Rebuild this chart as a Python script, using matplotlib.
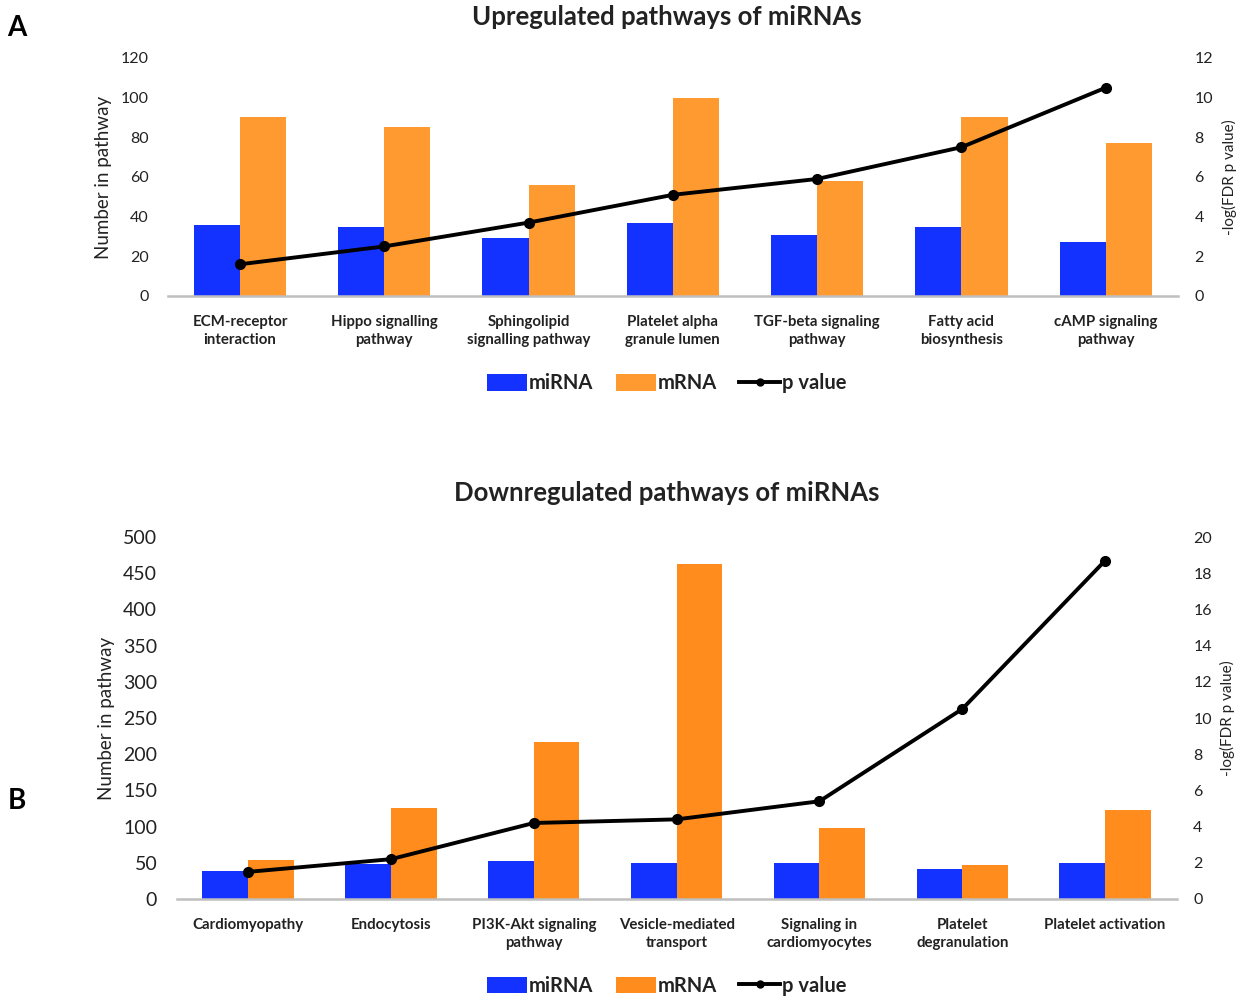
import matplotlib
matplotlib.use("Agg")
import matplotlib.pyplot as plt
import numpy as np
from matplotlib.patches import Patch
from matplotlib.lines import Line2D

plt.rcParams['font.family'] = ['Lato', 'DejaVu Sans']

# Upregulated pathways
up_categories = ["ECM-receptor\ninteraction", "Hippo signalling\npathway",
                 "Sphingolipid\nsignalling pathway", "Platelet alpha\ngranule lumen",
                 "TGF-beta signaling\npathway", "Fatty acid\nbiosynthesis",
                 "cAMP signaling\npathway"]
up_mirna = [36, 35, 29, 37, 31, 35, 27]
up_mrna = [90, 85, 56, 100, 58, 90, 77]
up_pvalue = [1.6, 2.5, 3.7, 5.1, 5.9, 7.5, 10.5]

# Downregulated pathways
down_categories = ["Cardiomyopathy", "Endocytosis", "PI3K-Akt signaling\npathway",
                   "Vesicle-mediated\ntransport", "Signaling in\ncardiomyocytes",
                   "Platelet\ndegranulation", "Platelet activation"]
down_mirna = [38, 48, 52, 50, 50, 41, 50]
down_mrna = [54, 126, 217, 463, 98, 47, 123]
down_pvalue = [1.5, 2.2, 4.2, 4.4, 5.4, 10.5, 18.7]

BLUE = "#1432FF"
ORANGE_UP = "#FF9A30"
ORANGE_DOWN = "#FF8C1C"
TXT = "#222222"

fig = plt.figure(figsize=(12.53, 10.01), dpi=100)


def draw_panel(rect, cats, mirna, mrna, pval, ymax, ystep, y2max, y2step,
               orange, ytick_fs, title, title_fs, title_y, legend_y):
    ax = fig.add_axes(rect)
    x = np.arange(len(cats))
    w = 0.32
    ax.bar(x - w / 2, mirna, w, color=BLUE, zorder=2)
    ax.bar(x + w / 2, mrna, w, color=orange, zorder=2)
    ax.set_xlim(-0.5, len(cats) - 0.5)
    ax.set_ylim(0, ymax)
    ax.set_yticks(np.arange(0, ymax + 1, ystep))
    ax.set_xticks(x)
    ax.set_xticklabels(cats, fontsize=10.8, fontweight='bold', color=TXT,
                       linespacing=1.3)
    ax.tick_params(axis='x', length=0, pad=14)
    ax.tick_params(axis='y', length=0, labelsize=ytick_fs, labelcolor=TXT, pad=14)
    for s in ['top', 'right', 'left']:
        ax.spines[s].set_visible(False)
    ax.spines['bottom'].set_color("#BFBFBF")
    ax.spines['bottom'].set_linewidth(1.8)
    ax.set_ylabel("Number in pathway", fontsize=13.5, color=TXT, labelpad=6)

    ax2 = ax.twinx()
    ax2.plot(x, pval, color='black', lw=2.8, marker='o', markersize=7, zorder=5)
    ax2.set_ylim(0, y2max)
    ax2.set_yticks(np.arange(0, y2max + 1, y2step))
    ax2.tick_params(axis='y', length=0, labelsize=11.5, labelcolor=TXT, pad=12)
    for s in ['top', 'right', 'left', 'bottom']:
        ax2.spines[s].set_visible(False)
    ax2.set_ylabel("-log(FDR p value)", fontsize=11, color=TXT, labelpad=6)

    fig.text(0.532, title_y, title, ha='center', va='center', fontsize=title_fs,
             fontweight='bold', color=TXT)

    handles = [Patch(facecolor=BLUE, label="miRNA"),
               Patch(facecolor=orange, label="mRNA"),
               Line2D([0], [0], color='black', lw=2.8, marker='o', markersize=5,
                      label="p value")]
    fig.legend(handles=handles, loc='center', bbox_to_anchor=(0.532, legend_y),
               ncol=3, frameon=False, handlelength=2.0, handleheight=0.9,
               handletextpad=0.1, columnspacing=1.1,
               prop={'size': 14.5, 'weight': 'bold'}, labelcolor=TXT)
    return ax


draw_panel([0.134, 0.7043, 0.806, 0.2378], up_categories, up_mirna, up_mrna,
           up_pvalue, 120, 20, 12, 2, ORANGE_UP, 11.5,
           "Upregulated pathways of miRNAs", 18.5, 0.983, 0.617)

draw_panel([0.141, 0.1019, 0.798, 0.3616], down_categories, down_mirna, down_mrna,
           down_pvalue, 500, 50, 20, 2, ORANGE_DOWN, 14,
           "Downregulated pathways of miRNAs", 18.5, 0.507, 0.015)

fig.text(0.006, 0.972, "A", fontsize=20, fontweight='bold', va='center')
fig.text(0.006, 0.200, "B", fontsize=20, fontweight='bold', va='center')

fig.savefig("out.png", dpi=100)
